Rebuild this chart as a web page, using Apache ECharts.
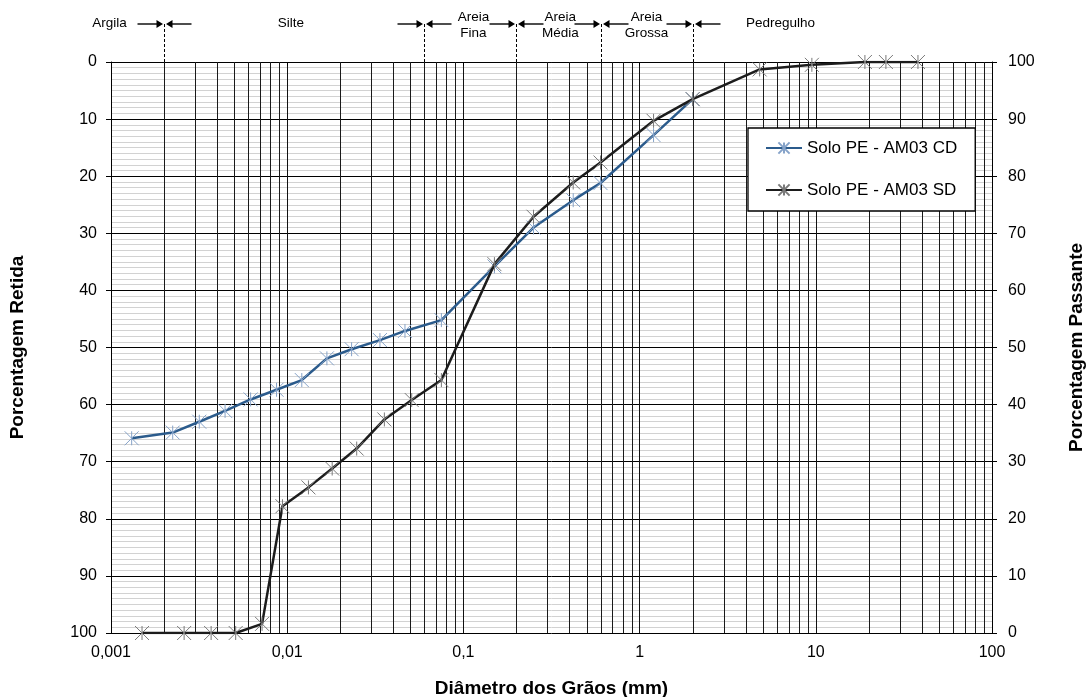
<!DOCTYPE html>
<html>
<head>
<meta charset="utf-8">
<script src="https://cdn.jsdelivr.net/npm/echarts@6/dist/echarts.min.js"></script>
<style>
  html, body { margin: 0; padding: 0; background: #fff; }
  #chart { width: 1088px; height: 697px; }
</style>
</head>
<body>
<div id="chart"></div>
<script>
// Curva granulométrica - Solo PE, amostra AM03 (com e sem defloculante)

// Ensaio com defloculante (CD): diâmetro (mm) e porcentagem retida
const diamCD = [0.00131, 0.00224, 0.00317, 0.00444, 0.0062, 0.0087, 0.0121, 0.0168, 0.0232, 0.0336, 0.0466,
                0.075, 0.15, 0.25, 0.42, 0.6, 1.2, 2.0];
const retidaCD = [65.9, 64.9, 63.0, 61.1, 59.1, 57.4, 55.7, 51.9, 50.3, 48.7, 47.1,
                  45.2, 35.8, 29.0, 24.2, 21.2, 12.8, 6.5];

// Ensaio sem defloculante (SD)
const diamSD = [0.0015, 0.0026, 0.0037, 0.0051, 0.0072, 0.0094, 0.0132, 0.018, 0.0248, 0.0356, 0.0509,
                0.075, 0.15, 0.25, 0.42, 0.6, 1.2, 2.0, 4.8, 9.5, 19, 25, 38];
const retidaSD = [100, 100, 100, 100, 98.4, 77.8, 74.5, 71.2, 67.7, 62.6, 59.2,
                  55.7, 35.4, 27.1, 21.1, 17.6, 10.3, 6.5, 1.3, 0.5, 0, 0, 0];

const nomesSeries = ['Solo PE - AM03 CD', 'Solo PE - AM03 SD'];

// Limites entre frações (mm) e nomes das frações
const limitesFracoes = [0.002, 0.06, 0.2, 0.6, 2];
const nomesFracoes = ['Argila', 'Silte', 'Areia\nFina', 'Areia\nMédia', 'Areia\nGrossa', 'Pedregulho'];

// Escalas
const xMin = 0.001, xMax = 100;
const yMin = 0, yMax = 100, yPasso = 10;

// ---- layout (not data) ----
const FONT = '"Liberation Sans", Arial, Helvetica, sans-serif';
const posRotulos = [0.00098, 0.0105, 0.114, 0.355, 1.095, 6.3];   // diâmetro onde cada nome é centrado
const corCD = '#2b5b8c', corMarcaCD = '#86a3c9';
const corSD = '#1c1c1c', corMarcaSD = '#7a7a7a';
const estrela = 'path://M0 0L12 12M12 0L0 12M6 0L6 12';

// Linhas verticais intermediárias da grade: 2..9 x 10^k (as décadas vêm do eixo)
const gradeX = [];
for (let k = -3; k < 2; k++) {
  for (let m = 2; m <= 9; m++) gradeX.push(+(m * Math.pow(10, k)).toPrecision(6));
}

const chart = echarts.init(document.getElementById('chart'), null, { renderer: 'canvas' });

const px = v => Math.round(v) + 0.5;

const option = {
  animation: false,
  backgroundColor: '#fff',
  textStyle: { fontFamily: FONT, color: '#000' },
  grid: { left: 111, right: 96, top: 62, bottom: 64, containLabel: false, outerBoundsMode: 'none' },
  legend: {
    data: nomesSeries,
    orient: 'vertical',
    left: 748, top: 128,
    padding: [10, 18, 11, 17],
    itemGap: 22,
    itemWidth: 36, itemHeight: 14,
    selectedMode: false,
    backgroundColor: '#fff',
    borderColor: '#000', borderWidth: 1.3,
    textStyle: { fontSize: 17, lineHeight: 20, color: '#000', fontFamily: FONT },
    z: 20
  },
  xAxis: {
    type: 'log', logBase: 10, min: xMin, max: xMax,
    name: 'Diâmetro dos Grãos (mm)', nameLocation: 'middle', nameGap: 46,
    nameTextStyle: { fontSize: 19, fontWeight: 'bold', color: '#000', fontFamily: FONT },
    axisLine: { show: true, lineStyle: { color: '#000', width: 1 } },
    axisTick: { show: true, length: 4, lineStyle: { color: '#000' } },
    axisLabel: { fontSize: 16, color: '#000', margin: 12,
                 formatter: v => String(+(+v).toPrecision(6)).replace('.', ',') },
    splitLine: { show: true, lineStyle: { color: '#111', width: 1 } },
    minorTick: { show: false }
  },
  yAxis: [
    {
      type: 'value', min: yMin, max: yMax, interval: yPasso, inverse: true, position: 'left',
      name: 'Porcentagem Retida', nameLocation: 'middle', nameGap: 84, nameRotate: 90,
      nameTextStyle: { fontSize: 19, fontWeight: 'bold', color: '#000', fontFamily: FONT },
      axisLine: { show: true, lineStyle: { color: '#000', width: 1 } },
      axisTick: { show: true, length: 5, lineStyle: { color: '#000' } },
      axisLabel: { fontSize: 16, color: '#000', margin: 14 },
      splitLine: { show: true, lineStyle: { color: '#000', width: 1 } },
      minorTick: { show: false, splitNumber: 10 },
      minorSplitLine: { show: true, lineStyle: { color: '#d2d2d2', width: 1 } }
    },
    {
      type: 'value', min: yMin, max: yMax, interval: yPasso, position: 'right',
      name: 'Porcentagem Passante', nameLocation: 'middle', nameGap: 75, nameRotate: 90,
      nameTextStyle: { fontSize: 19, fontWeight: 'bold', color: '#000', fontFamily: FONT },
      axisLine: { show: true, lineStyle: { color: '#000', width: 1 } },
      axisTick: { show: true, length: 5, lineStyle: { color: '#000' } },
      axisLabel: { fontSize: 16, color: '#000', margin: 16 },
      splitLine: { show: false }
    }
  ],
  series: [
    // grade vertical intermediária
    {
      type: 'custom', name: 'gradeX', silent: true, z: 1, yAxisIndex: 0,
      data: gradeX.map(v => [v, 0]),
      encode: { x: 0, y: 1 },
      renderItem(params, api) {
        const a = api.coord([api.value(0), yMin]);
        const b = api.coord([api.value(0), yMax]);
        const x = px(a[0]);
        return { type: 'line', shape: { x1: x, y1: a[1], x2: x, y2: b[1] },
                 style: { stroke: '#1a1a1a', lineWidth: 1 } };
      }
    },
    // limites das frações: linhas tracejadas e setas
    {
      type: 'custom', name: 'limites', silent: true, z: 5, yAxisIndex: 0, clip: false,
      data: limitesFracoes.map(v => [v, 0]),
      encode: { x: 0, y: 1 },
      renderItem(params, api) {
        const p = api.coord([api.value(0), yMin]);
        const x = px(p[0]);
        const top = p[1];
        const ya = top - 38;
        const st = { stroke: '#000', lineWidth: 1.4 };
        return {
          type: 'group',
          children: [
            { type: 'line', shape: { x1: x, y1: ya, x2: x, y2: top },
              style: { stroke: '#000', lineWidth: 1, lineDash: [3, 2] } },
            { type: 'line', shape: { x1: x - 27, y1: ya, x2: x - 6, y2: ya }, style: st },
            { type: 'polygon', shape: { points: [[x - 1.5, ya], [x - 8, ya - 4], [x - 8, ya + 4]] },
              style: { fill: '#000' } },
            { type: 'line', shape: { x1: x + 27, y1: ya, x2: x + 6, y2: ya }, style: st },
            { type: 'polygon', shape: { points: [[x + 1.5, ya], [x + 8, ya - 4], [x + 8, ya + 4]] },
              style: { fill: '#000' } }
          ]
        };
      }
    },
    // nomes das frações
    {
      type: 'custom', name: 'fracoes', silent: true, z: 5, yAxisIndex: 0, clip: false,
      data: posRotulos.map((v, i) => [v, 0, i]),
      encode: { x: 0, y: 1 },
      renderItem(params, api) {
        const p = api.coord([api.value(0), yMin]);
        const txt = nomesFracoes[api.value(2)];
        const twoLines = txt.indexOf('\n') >= 0;
        return {
          type: 'text', x: p[0], y: p[1] - (twoLines ? 37 : 39),
          style: { text: txt, fill: '#000', fontSize: 13.5, fontFamily: FONT,
                   align: 'center', verticalAlign: 'middle', lineHeight: 16 }
        };
      }
    },
    {
      type: 'line', name: nomesSeries[0], yAxisIndex: 0, z: 3,
      data: diamCD.map((d, i) => [d, retidaCD[i]]),
      symbol: estrela, symbolSize: 14, showSymbol: true,
      lineStyle: { color: corCD, width: 2.5 },
      itemStyle: { color: corCD, borderColor: corMarcaCD, borderWidth: 1 },
      emphasis: { disabled: true }
    },
    {
      type: 'line', name: nomesSeries[1], yAxisIndex: 0, z: 4,
      data: diamSD.map((d, i) => [d, retidaSD[i]]),
      symbol: estrela, symbolSize: 14, showSymbol: true,
      lineStyle: { color: corSD, width: 2.5 },
      itemStyle: { color: corSD, borderColor: corMarcaSD, borderWidth: 1 },
      emphasis: { disabled: true }
    }
  ]
};

chart.setOption(option);
</script>
</body>
</html>
